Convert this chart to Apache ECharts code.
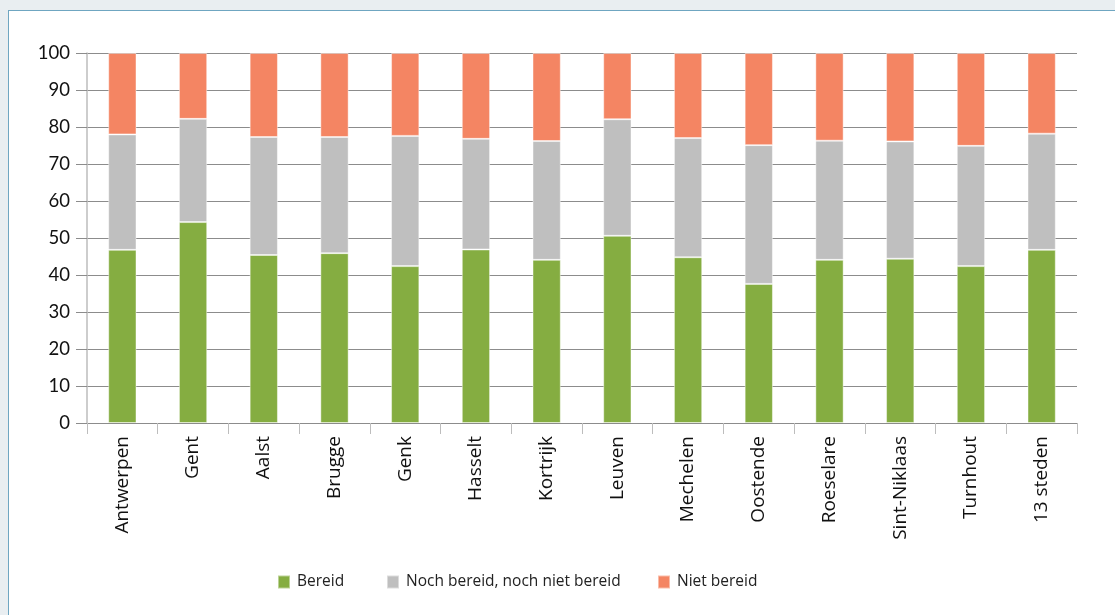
<!DOCTYPE html>
<html>
<head>
<meta charset="utf-8">
<script src="https://cdn.jsdelivr.net/npm/echarts@6/dist/echarts.min.js"></script>
<style>
  html, body { margin: 0; padding: 0; width: 1115px; height: 615px; overflow: hidden; background: #e9eef1; }
  #frame { position: absolute; left: 8px; top: 10px; width: 1107px; height: 605px; background: #ffffff; border-left: 1.5px solid #6fa6c1; border-top: 1.5px solid #6fa6c1; box-sizing: border-box; }
  #chart { position: absolute; left: 0; top: 0; width: 1115px; height: 615px; }
</style>
</head>
<body>
<div id="frame"></div>
<div id="chart"></div>
<script>
const categories = ["Antwerpen", "Gent", "Aalst", "Brugge", "Genk", "Hasselt", "Kortrijk", "Leuven", "Mechelen", "Oostende", "Roeselare", "Sint-Niklaas", "Turnhout", "13 steden"];
const bereid = [46.8, 54.3, 45.4, 45.9, 42.4, 46.9, 44.1, 50.6, 44.8, 37.6, 44.1, 44.4, 42.4, 46.8];
const nochNoch = [31.2, 27.9, 31.9, 31.4, 35.2, 29.9, 32.1, 31.5, 32.2, 37.5, 32.2, 31.7, 32.5, 31.4];
const nietBereid = [22.0, 17.8, 22.7, 22.7, 22.4, 23.2, 23.8, 17.9, 23.0, 24.9, 23.7, 23.9, 25.1, 21.8];
const seriesNames = ["Bereid", "Noch bereid, noch niet bereid", "Niet bereid"];
const yTicks = [0, 10, 20, 30, 40, 50, 60, 70, 80, 90, 100];

const colors = ["#85ad41", "#bfbfbf", "#f48563"];
const font = "'Open Sans', 'Noto Sans', sans-serif";

const chart = echarts.init(document.getElementById('chart'), null, { renderer: 'canvas' });
const mk = (name, data, color) => ({
  name, type: 'bar', stack: 'total', data, barWidth: '40%',
  itemStyle: { color, borderColor: 'rgba(255,255,255,0.45)', borderWidth: 1 },
  emphasis: { disabled: true }
});
const legendPos = [277, 386, 657];
const legends = seriesNames.map((n, i) => ({
  data: [n],
  left: legendPos[i], top: 574, padding: 0,
  itemWidth: 12, itemHeight: 13, itemGap: 0,
  icon: 'rect',
  textStyle: { fontFamily: font, fontSize: 15.5, color: '#222', padding: [0, 0, 0, 2] }
}));
chart.setOption({
  animation: false,
  backgroundColor: 'transparent',
  grid: { left: 87, right: 38, top: 53, bottom: 192, containLabel: false },
  legend: legends,
  xAxis: {
    type: 'category', data: categories,
    axisLine: { lineStyle: { color: '#8c8c8c', width: 1 } },
    axisTick: { show: true, length: 11, lineStyle: { color: '#bdbdbd' } },
    axisLabel: { rotate: 90, margin: 13, fontFamily: font, fontSize: 19, color: '#111', interval: 0 }
  },
  yAxis: {
    type: 'value', min: 0, max: 100, interval: 10,
    axisLine: { show: true, lineStyle: { color: '#bdbdbd', width: 1.5 } },
    axisTick: { show: true, length: 11, lineStyle: { color: '#8c8c8c' } },
    splitLine: { lineStyle: { color: '#8c8c8c', width: 1 } },
    axisLabel: { margin: 17, fontFamily: "'Lato', 'Open Sans', sans-serif", fontSize: 18.5, color: '#111',
      formatter: v => yTicks.includes(v) ? String(v) : '' }
  },
  series: [
    mk(seriesNames[0], bereid, colors[0]),
    mk(seriesNames[1], nochNoch, colors[1]),
    mk(seriesNames[2], nietBereid, colors[2])
  ]
});
</script>
</body>
</html>
